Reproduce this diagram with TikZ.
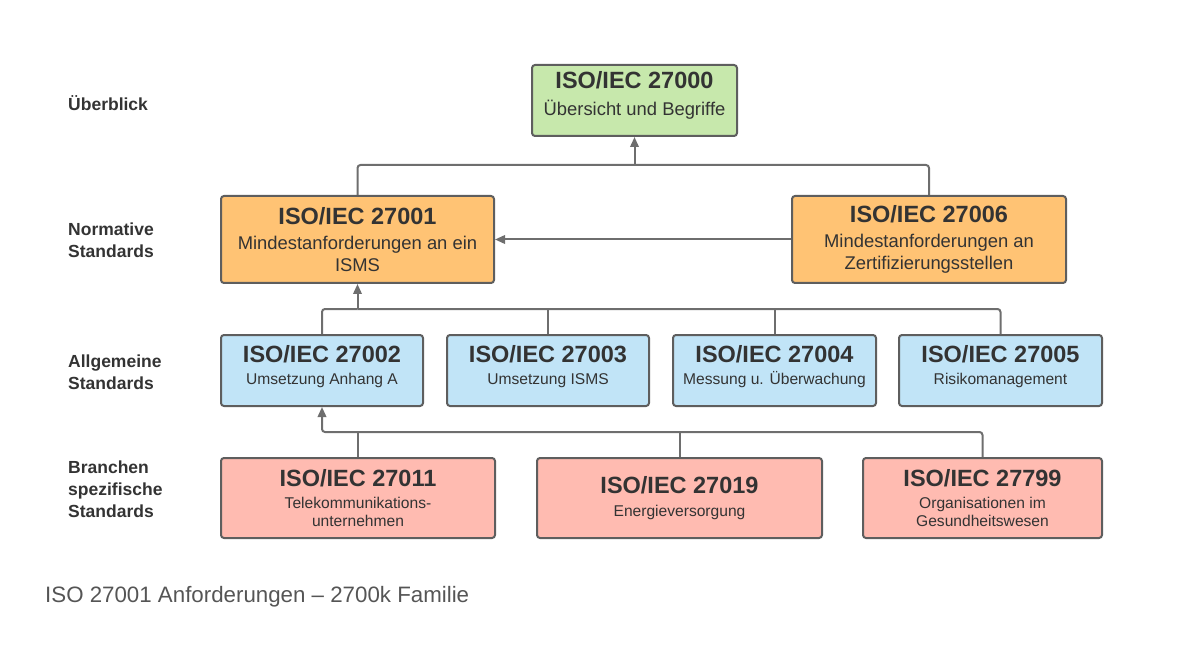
\documentclass[tikz,border=0pt]{standalone}
\usepackage{fontspec}
\setmainfont{Liberation Sans}
\usetikzlibrary{arrows.meta}
\definecolor{boxline}{HTML}{5E5E5E}
\definecolor{linkgray}{HTML}{6E6E6E}
\definecolor{textdark}{HTML}{333333}
\definecolor{captiongray}{HTML}{555555}
\definecolor{overview}{HTML}{C7E8AC}
\definecolor{normative}{HTML}{FFC374}
\definecolor{general}{HTML}{C1E4F7}
\definecolor{sector}{HTML}{FFBBB1}
\newcommand{\isotitle}[1]{{\fontsize{23.5}{26}\selectfont\bfseries ISO/IEC #1}}

\begin{document}
\begin{tikzpicture}[x=1pt, y=-1pt,
    stdbox/.style={draw=boxline, line width=2pt, rounded corners=3pt, inner sep=0pt, align=center, text=textdark},
    bigbox/.style={stdbox, font=\fontsize{18.4}{21.7}\selectfont},
    smallbox/.style={stdbox, font=\fontsize{15.6}{18.3}\selectfont},
    rowlabel/.style={font=\fontsize{17.5}{21.8}\selectfont\bfseries, text=textdark, align=left, anchor=west, inner sep=0pt},
    caption/.style={font=\fontsize{22.3}{26}\selectfont, text=captiongray, anchor=base west, inner sep=0pt},
    connector/.style={draw=linkgray, line width=2pt, rounded corners=3pt},
    arrowlink/.style={connector, -{Triangle[length=10pt,width=8.5pt]}}]
  \useasboundingbox (0,0) rectangle (1200,647);

  \node[rowlabel] (lbloverview) at (68,103) {Überblick};
  \node[rowlabel] (lblnormative) at (68,240) {Normative\\Standards};
  \node[rowlabel] (lblgeneral) at (68,372) {Allgemeine\\Standards};
  \node[rowlabel] (lblsector) at (68,489) {Branchen\\spezifische\\Standards};

  \node[bigbox, fill=overview, minimum width=205pt, minimum height=71pt, text depth=14pt] (iso27000) at (634.5,100.5)
    {\isotitle{27000}\\[5pt]Übersicht und Begriffe};
  \node[bigbox, fill=normative, minimum width=273pt, minimum height=87pt] (iso27001) at (357.5,239.5)
    {\isotitle{27001}\\[3pt]Mindestanforderungen an ein\\ISMS};
  \node[bigbox, fill=normative, minimum width=274pt, minimum height=87pt] (iso27006) at (929,239.5)
    {\isotitle{27006}\\[3pt]Mindestanforderungen an\\Zertifizierungsstellen};

  \node[smallbox, fill=general, minimum width=202pt, minimum height=71pt, text depth=11pt] (iso27002) at (322,370.5)
    {\isotitle{27002}\\[4pt]Umsetzung Anhang A};
  \node[smallbox, fill=general, minimum width=202pt, minimum height=71pt, text depth=11pt] (iso27003) at (548,370.5)
    {\isotitle{27003}\\[4pt]Umsetzung ISMS};
  \node[smallbox, fill=general, minimum width=203pt, minimum height=71pt, text depth=11pt] (iso27004) at (774.5,370.5)
    {\isotitle{27004}\\[4pt]Messung u. Überwachung};
  \node[smallbox, fill=general, minimum width=203pt, minimum height=71pt, text depth=11pt] (iso27005) at (1000.5,370.5)
    {\isotitle{27005}\\[4pt]Risikomanagement};

  \node[smallbox, fill=sector, minimum width=274pt, minimum height=80pt] (iso27011) at (358,498)
    {\isotitle{27011}\\[4pt]Telekommunikations-\\unternehmen};
  \node[smallbox, fill=sector, minimum width=285pt, minimum height=80pt] (iso27019) at (679.5,498)
    {\isotitle{27019}\\[4pt]Energieversorgung};
  \node[smallbox, fill=sector, minimum width=239pt, minimum height=80pt] (iso27799) at (982.5,498)
    {\isotitle{27799}\\[4pt]Organisationen im\\Gesundheitswesen};

  \coordinate (topbus) at (634.5,165);
  \coordinate (bluebus) at (357.5,309);
  \coordinate (redbus) at (322,432);

  \draw[connector] (iso27001.north) |- (topbus) -| (iso27006.north);
  \draw[arrowlink] (topbus) -- (iso27000.south);
  \draw[arrowlink] (iso27006.west) -- (iso27001.east);

  \draw[connector] (iso27002.north) |- (bluebus);
  \draw[connector] (iso27005.north) |- (bluebus);
  \draw[connector] (iso27003.north) -- (iso27003.north |- bluebus);
  \draw[connector] (iso27004.north) -- (iso27004.north |- bluebus);
  \draw[arrowlink] (bluebus) -- (iso27001.south);

  \draw[connector] (iso27011.north) -- (iso27011.north |- redbus);
  \draw[connector] (iso27019.north) -- (iso27019.north |- redbus);
  \draw[arrowlink] (iso27799.north) |- (redbus) -- (iso27002.south);

  \node[caption] (caption) at (45,602) {ISO 27001 Anforderungen – 2700k Familie};
\end{tikzpicture}
\end{document}
